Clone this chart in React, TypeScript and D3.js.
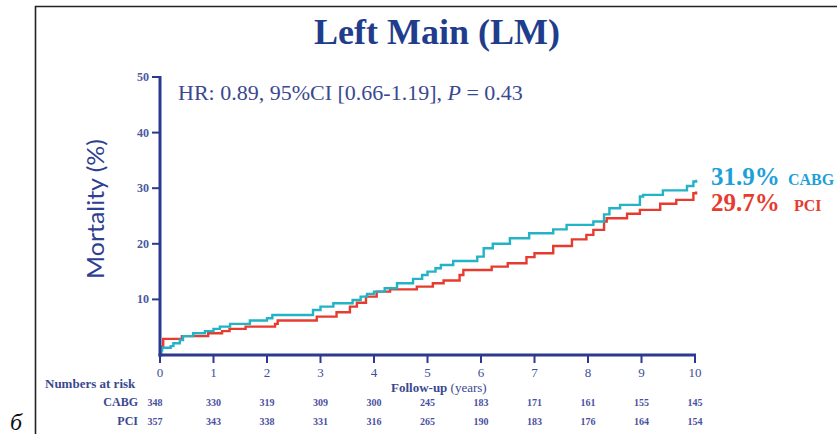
import React from 'react'
import * as d3 from 'd3'

// Kaplan-Meier style step points, [years, mortality %]
const cabgSteps: [number, number][] = [
  [0, 0], [0.02, 0.8], [0.04, 1.3], [0.2, 1.6], [0.25, 2.1], [0.37, 2.7], [0.43, 3.4],
  [0.62, 3.9], [0.84, 4.3], [1.0, 4.7], [1.12, 5.1], [1.31, 5.6], [1.68, 6.2], [2.0, 6.6],
  [2.1, 7.2], [2.86, 8.1], [3.0, 8.7], [3.24, 9.3], [3.6, 9.9], [3.75, 10.5], [3.87, 11.0],
  [4.0, 11.4], [4.2, 12.0], [4.43, 12.9], [4.73, 13.7], [4.9, 14.4], [5.0, 15.0], [5.15, 15.6],
  [5.25, 16.2], [5.48, 16.9], [5.93, 17.7], [6.05, 19.2], [6.22, 20.0], [6.54, 21.0],
  [6.9, 21.9], [7.35, 22.6], [7.6, 23.4], [8.1, 24.0], [8.3, 25.3], [8.4, 26.4], [8.6, 27.0],
  [8.97, 28.5], [9.03, 28.8], [9.4, 29.6], [9.85, 30.4], [9.97, 31.2], [10.02, 31.5],
]

const pciSteps: [number, number][] = [
  [0, 0], [0.02, 1.5], [0.06, 2.9], [0.41, 3.4], [0.9, 3.9], [1.16, 4.3], [1.3, 4.7],
  [1.6, 5.1], [2.15, 5.6], [2.2, 6.2], [2.93, 6.9], [3.3, 7.7], [3.55, 8.7], [3.68, 9.4],
  [3.85, 10.5], [4.05, 11.4], [4.3, 11.8], [4.8, 12.3], [5.1, 12.9], [5.3, 13.4], [5.6, 14.4],
  [5.67, 15.3], [6.2, 15.9], [6.5, 16.5], [6.85, 17.6], [7.0, 18.3], [7.35, 19.6], [7.7, 20.8],
  [7.97, 21.6], [8.1, 22.5], [8.3, 24.0], [8.35, 24.6], [8.73, 25.4], [8.97, 26.1],
  [9.35, 27.2], [9.65, 27.9], [9.97, 29.1], [10.02, 29.4],
]

const xTicks = [0, 1, 2, 3, 4, 5, 6, 7, 8, 9, 10]
const yTicks = [10, 20, 30, 40, 50]
const cabgAtRisk = [348, 330, 319, 309, 300, 245, 183, 171, 161, 155, 145]
const pciAtRisk = [357, 343, 338, 331, 316, 265, 190, 183, 176, 164, 154]

const navy = '#2b3990'
const textNavy = '#3a4890'
const cyan = '#22b3c6'
const red = '#e63b2e'
const serif = '"Liberation Serif", "DejaVu Serif", serif'

const x = d3.scaleLinear().domain([0, 10]).range([160, 695])
const y = d3.scaleLinear().domain([0, 50]).range([355, 77])

const stepLine = d3
  .line<[number, number]>()
  .x(d => x(d[0]))
  .y(d => y(d[1]))
  .curve(d3.curveStepAfter)

const App = () => {
  return (
    <svg
      width={837}
      height={434}
      style={{ position: 'absolute', left: 0, top: 0, background: '#fff' }}
    >
      {/* frame */}
      <path d="M35.5,434 V6.5 H837" fill="none" stroke="#222" strokeWidth={1.6} />
      <text x={10} y={430} fontFamily={serif} fontStyle="italic" fontSize={24} fill="#111">
        б
      </text>

      <text
        x={437}
        y={44}
        textAnchor="middle"
        fontFamily={serif}
        fontWeight="bold"
        fontSize={36}
        fill="#1f3d8c"
      >
        Left Main (LM)
      </text>

      <text x={178} y={100} fontFamily={serif} fontSize={22} fill={textNavy}>
        HR: 0.89, 95%CI [0.66-1.19], <tspan fontStyle="italic">P</tspan> = 0.43
      </text>

      <text
        transform="translate(104,209) rotate(-90)"
        textAnchor="middle"
        fontFamily="Lato, 'Open Sans', sans-serif"
        fontSize={23}
        textLength={140}
        lengthAdjust="spacingAndGlyphs"
        fill="#2e4090"
      >
        Mortality (%)
      </text>

      {/* curves */}
      <path d={stepLine(pciSteps) || ''} fill="none" stroke={red} strokeWidth={2.4} />
      <path d={stepLine(cabgSteps) || ''} fill="none" stroke={cyan} strokeWidth={2.4} />

      {/* y axis */}
      <line x1={x(0)} x2={x(0)} y1={y(50) - 1} y2={y(0) + 1.5} stroke={navy} strokeWidth={3} />
      {yTicks.map(t => (
        <g key={t}>
          <line x1={x(0) - 8} x2={x(0)} y1={y(t)} y2={y(t)} stroke={navy} strokeWidth={2} />
          <text
            x={x(0) - 11}
            y={y(t) + 4}
            textAnchor="end"
            fontFamily={serif}
            fontWeight="bold"
            fontSize={12}
            fill="#4a58a0"
          >
            {t}
          </text>
        </g>
      ))}

      {/* x axis */}
      <line x1={x(0) - 1.5} x2={x(10) + 1} y1={y(0)} y2={y(0)} stroke={navy} strokeWidth={3} />
      {xTicks.map(t => (
        <g key={t}>
          <line x1={x(t)} x2={x(t)} y1={y(0)} y2={y(0) + 8} stroke={navy} strokeWidth={2} />
          <text
            x={x(t)}
            y={377}
            textAnchor="middle"
            fontFamily={serif}
            fontSize={13}
            fill="#3f4d9a"
          >
            {t}
          </text>
        </g>
      ))}

      <text x={391} y={392} fontFamily={serif} fontSize={13} fill={textNavy}>
        <tspan fontWeight="bold">Follow-up</tspan> (years)
      </text>

      {/* numbers at risk */}
      <text x={45} y={388} fontFamily={serif} fontWeight="bold" fontSize={13} fill={textNavy}>
        Numbers at risk
      </text>
      <text x={138} y={406} textAnchor="end" fontFamily={serif} fontWeight="bold" fontSize={12} fill={textNavy}>
        CABG
      </text>
      <text x={138} y={425} textAnchor="end" fontFamily={serif} fontWeight="bold" fontSize={12} fill={textNavy}>
        PCI
      </text>
      {cabgAtRisk.map((v, i) => (
        <text
          key={'c' + i}
          x={x(xTicks[i]) + (i === 0 ? -5 : 0)}
          y={406}
          textAnchor="middle"
          fontFamily={serif}
          fontWeight="bold"
          fontSize={10}
          fill="#4a4fa0"
        >
          {v}
        </text>
      ))}
      {pciAtRisk.map((v, i) => (
        <text
          key={'p' + i}
          x={x(xTicks[i]) + (i === 0 ? -5 : 0)}
          y={425}
          textAnchor="middle"
          fontFamily={serif}
          fontWeight="bold"
          fontSize={10}
          fill="#4a4fa0"
        >
          {v}
        </text>
      ))}

      {/* end labels */}
      <text x={711} y={185} fontFamily={serif} fontWeight="bold" fontSize={25} fill="#1e9fd8">
        31.9% <tspan fontSize={16} dx={2}>CABG</tspan>
      </text>
      <text x={711} y={211} fontFamily={serif} fontWeight="bold" fontSize={25} fill={red}>
        29.7% <tspan fontSize={16} dx={8}>PCI</tspan>
      </text>
    </svg>
  )
}

export default App
